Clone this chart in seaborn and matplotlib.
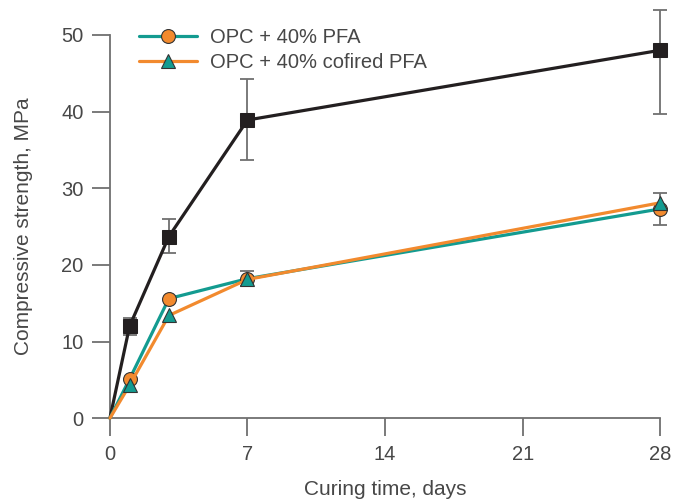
import numpy as np
import pandas as pd
import matplotlib
matplotlib.use("Agg")
import matplotlib.pyplot as plt
import seaborn as sns

days = [0, 1, 3, 7, 28]
opc = [0, 12.0, 23.7, 38.9, 48.0]
opc_err_lo = [0, 1.2, 2.2, 5.2, 8.3]
opc_err_hi = [0, 1.1, 2.3, 5.4, 5.3]
pfa = [0, 5.1, 15.6, 18.2, 27.3]
pfa_err = [0, 0, 0, 1.0, 2.1]
cof = [0, 4.3, 13.4, 18.1, 28.1]
series_names = ["OPC", "OPC + 40% PFA", "OPC + 40% cofired PFA"]
xticks = [0, 7, 14, 21, 28]
yticks = [0, 10, 20, 30, 40, 50]

sns.set_style("ticks")
plt.rcParams['font.family'] = ['Liberation Sans', 'DejaVu Sans']
txt = '#474747'
gray = '#707070'

fig = plt.figure(figsize=(6.87, 4.99), dpi=100)
ax = fig.add_axes([0.160, 0.162, 0.801, 0.768])

df_opc = pd.DataFrame({"day": days, "val": opc})
df_pfa = pd.DataFrame({"day": days, "val": pfa})
df_cof = pd.DataFrame({"day": days, "val": cof})

teal = '#139b90'
orange = '#f28a2e'
black = '#231f20'

# error bars
ax.errorbar(days[1:], opc[1:], yerr=[opc_err_lo[1:], opc_err_hi[1:]], fmt='none',
            ecolor=gray, elinewidth=1.3, capsize=5, capthick=1.3, clip_on=False, zorder=2)
ax.errorbar(days[3:], pfa[3:], yerr=pfa_err[3:], fmt='none',
            ecolor=gray, elinewidth=1.3, capsize=5, capthick=1.3, clip_on=False, zorder=2)

sns.lineplot(data=df_opc, x="day", y="val", ax=ax, color=black, lw=2.3,
             marker='s', markersize=9.5, markerfacecolor=black, markeredgecolor=black,
             zorder=3, clip_on=False)
ax.lines[-1].set_markevery([1, 2, 3, 4])

sns.lineplot(data=df_pfa, x="day", y="val", ax=ax, color=teal, lw=2.3,
             marker='o', markersize=10, markerfacecolor=orange, markeredgecolor='#333333',
             markeredgewidth=0.8, zorder=4, clip_on=False, label=series_names[1])
ax.lines[-1].set_markevery([1, 2, 3, 4])
sns.lineplot(data=df_cof, x="day", y="val", ax=ax, color=orange, lw=2.3,
             marker='^', markersize=10.5, markerfacecolor=teal, markeredgecolor='#333333',
             markeredgewidth=0.8, zorder=5, clip_on=False, label=series_names[2])
ax.lines[-1].set_markevery([1, 2, 3, 4])

ax.set_xlim(0, 28)
ax.set_ylim(0, 50)
ax.set_xticks(xticks)
ax.set_yticks(yticks)
ax.set_xlabel("Curing time, days", fontsize=15, color=txt, labelpad=12)
ax.set_ylabel("Compressive strength, MPa", fontsize=15, color=txt, labelpad=20)
ax.tick_params(axis='both', length=13, width=1.3, color=gray, labelsize=14.5,
               labelcolor=txt, direction='out', pad=6)
for s in ['top', 'right']:
    ax.spines[s].set_visible(False)
for s in ['left', 'bottom']:
    ax.spines[s].set_color(gray)
    ax.spines[s].set_linewidth(1.3)

leg = ax.legend(loc='upper left', bbox_to_anchor=(0.02, 1.065), frameon=False,
                fontsize=14.5, handlelength=2.9, handletextpad=0.6, labelspacing=0.3)
for t in leg.get_texts():
    t.set_color(txt)

fig.savefig("out.png", dpi=100)
